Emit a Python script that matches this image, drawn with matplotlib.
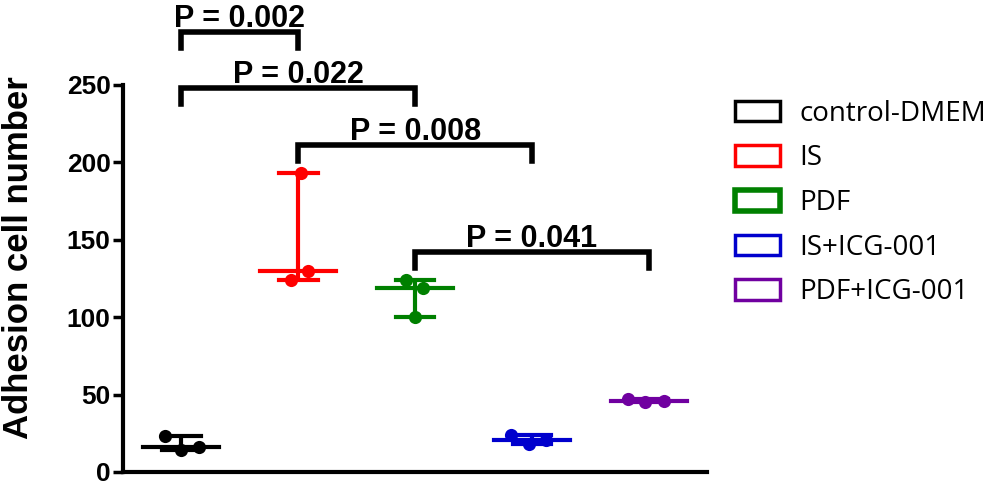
import numpy as np
import matplotlib.pyplot as plt
from matplotlib.patches import Patch

groups = ['control-DMEM', 'IS', 'PDF', 'IS+ICG-001', 'PDF+ICG-001']
colors = ['#000000', '#FF0000', '#008000', '#0000CD', '#7000A0']
values = [
    [23, 14, 16],
    [193, 130, 124],
    [124, 119, 100],
    [24, 18, 20.5],
    [47, 45, 46],
]
# horizontal scatter of the three replicates inside each group
jitter = [
    [-0.14, 0.0, 0.15],
    [0.02, 0.08, -0.06],
    [-0.08, 0.07, 0.0],
    [-0.18, -0.03, 0.12],
    [-0.18, -0.03, 0.13],
]
# significance brackets: (group a, group b, bracket height, label)
comparisons = [
    (0, 1, 284, 'P = 0.002'),
    (0, 2, 248, 'P = 0.022'),
    (1, 3, 211, 'P = 0.008'),
    (2, 4, 142, 'P = 0.041'),
]

bold = {'family': 'Liberation Sans', 'weight': 'bold'}

fig = plt.figure(figsize=(9.92, 4.84), dpi=100)
ax = fig.add_axes([0.124, 0.0248, 0.589, 0.7996])

for i, (vals, jit, c) in enumerate(zip(values, jitter, colors)):
    vals = np.array(vals)
    med = np.median(vals)
    lo, hi = vals.min(), vals.max()
    ax.plot([i, i], [lo, hi], color=c, lw=3, solid_capstyle='butt', zorder=2)
    ax.plot([i - 0.165, i + 0.165], [lo, lo], color=c, lw=3, zorder=2)
    ax.plot([i - 0.165, i + 0.165], [hi, hi], color=c, lw=3, zorder=2)
    ax.plot([i - 0.325, i + 0.325], [med, med], color=c, lw=3, zorder=2)
    ax.scatter(i + np.array(jit), vals, s=90, color=c, zorder=3, linewidths=0)

for a, b, h, label in comparisons:
    ax.plot([a, a, b, b], [h - 10, h, h, h - 10], color='black', lw=4,
            clip_on=False, solid_joinstyle='miter')
    ax.text((a + b) / 2, h + 3.5, label, ha='center', va='baseline',
            fontsize=22, fontdict=bold)

ax.set_xlim(-0.5, 4.5)
ax.set_ylim(0, 250)
ax.set_yticks([0, 50, 100, 150, 200, 250])
ax.set_xticks([])
for lab in ax.get_yticklabels():
    lab.set_fontfamily('Liberation Sans')
    lab.set_fontweight('bold')
    lab.set_fontsize(19)
ax.tick_params(axis='y', length=7, width=2.5, pad=2)
ax.spines['top'].set_visible(False)
ax.spines['right'].set_visible(False)
ax.spines['left'].set_linewidth(3)
ax.spines['bottom'].set_linewidth(3)
ax.set_ylabel('Adhesion cell number', fontsize=25, fontdict=bold)
ax.yaxis.set_label_coords(-0.15, 0.553)

handles = [Patch(facecolor='none', edgecolor=c, linewidth=4 if g == 'PDF' else 2.5)
           for g, c in zip(groups, colors)]
fig.legend(handles, groups, loc='upper left', bbox_to_anchor=(0.73, 0.817),
           frameon=False, prop={'family': 'Open Sans', 'size': 20},
           handlelength=1.6, handleheight=0.75, handletextpad=0.72,
           labelspacing=0.6, borderaxespad=0)

fig.savefig('out.png', dpi=100)
